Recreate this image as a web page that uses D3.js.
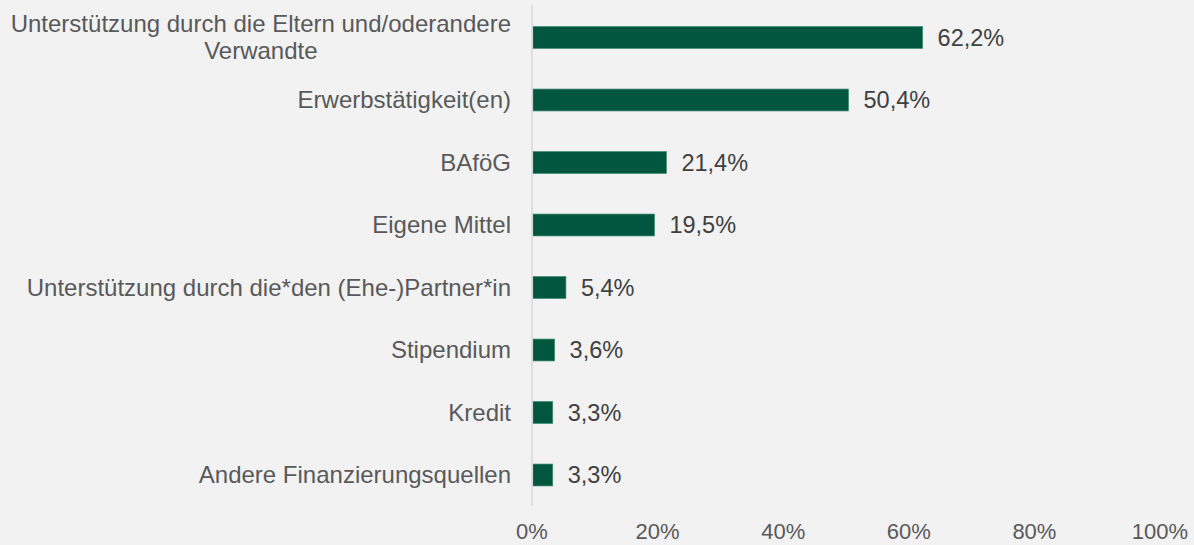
<!DOCTYPE html>
<html>
<head>
<meta charset="utf-8">
<script src="https://cdn.jsdelivr.net/npm/d3@7"></script>
<style>
  html, body { margin: 0; padding: 0; background: #f2f2f2; }
  svg { display: block; font-family: "Liberation Sans", Arial, sans-serif; }
</style>
</head>
<body>
<div id="chart"></div>
<script>
// Data
const categories = [
  ["Unterstützung durch die Eltern und/oderandere", "Verwandte"],
  ["Erwerbstätigkeit(en)"],
  ["BAföG"],
  ["Eigene Mittel"],
  ["Unterstützung durch die*den (Ehe-)Partner*in"],
  ["Stipendium"],
  ["Kredit"],
  ["Andere Finanzierungsquellen"]
];
const values = [62.2, 50.4, 21.4, 19.5, 5.4, 3.6, 3.3, 3.3];
const tickValues = [0, 20, 40, 60, 80, 100];

// Size
const width = 1194;
const height = 545;
const x0 = 532;
const x1 = 1160;

const svg = d3
  .select("#chart")
  .append("svg")
  .attr("width", width)
  .attr("height", height);

svg.append("rect").attr("width", width).attr("height", height).attr("fill", "#f2f2f2");

const x = d3.scaleLinear().domain([0, 100]).range([x0, x1]);
const y = d3
  .scaleBand()
  .domain(d3.range(values.length))
  .range([6.25, 506.25])
  .paddingInner(0.65)
  .paddingOuter(0.325);

// Bars
svg
  .selectAll("rect.bar")
  .data(values)
  .enter()
  .append("rect")
  .attr("class", "bar")
  .attr("x", x(0) + 1)
  .attr("y", (d, i) => y(i))
  .attr("width", (d) => x(d) - x(0) - 1)
  .attr("height", y.bandwidth())
  .attr("fill", "#00563e")
  .attr("stroke", "#3d8a6e")
  .attr("stroke-width", 0.7);

// Vertical axis line
svg
  .append("line")
  .attr("x1", x0)
  .attr("x2", x0)
  .attr("y1", 5)
  .attr("y2", 506)
  .attr("stroke", "#d9d9d9")
  .attr("stroke-width", 1.5);

// Value labels
svg
  .selectAll("text.value")
  .data(values)
  .enter()
  .append("text")
  .attr("class", "value")
  .attr("x", (d) => x(d) + 15)
  .attr("y", (d, i) => y(i) + y.bandwidth() / 2 + 8)
  .style("font-size", "23.5px")
  .style("fill", "#404040")
  .text((d) => d.toFixed(1).replace(".", ",") + "%");

// Category labels
svg
  .selectAll("g.cat")
  .data(categories)
  .enter()
  .append("g")
  .attr("class", "cat")
  .each(function (lines, i) {
    const g = d3.select(this);
    const cy = y(i) + y.bandwidth() / 2;
    const lh = 27.6;
    const first = g
      .append("text")
      .attr("x", 511)
      .attr("y", cy + 8 - ((lines.length - 1) * lh) / 2)
      .attr("text-anchor", "end")
      .style("font-size", "24px")
      .style("fill", "#595959")
      .text(lines[0]);
    if (lines.length > 1) {
      const w = first.node().getComputedTextLength();
      g.append("text")
        .attr("x", 511 - w / 2)
        .attr("y", cy + 8 + lh / 2)
        .attr("text-anchor", "middle")
        .style("font-size", "24px")
        .style("fill", "#595959")
        .text(lines[1]);
    }
  });

// X tick labels
svg
  .selectAll("text.tick")
  .data(tickValues)
  .enter()
  .append("text")
  .attr("class", "tick")
  .attr("x", (d) => x(d))
  .attr("y", 539)
  .attr("text-anchor", "middle")
  .style("font-size", "22px")
  .style("fill", "#595959")
  .text((d) => d + "%");
</script>
</body>
</html>
